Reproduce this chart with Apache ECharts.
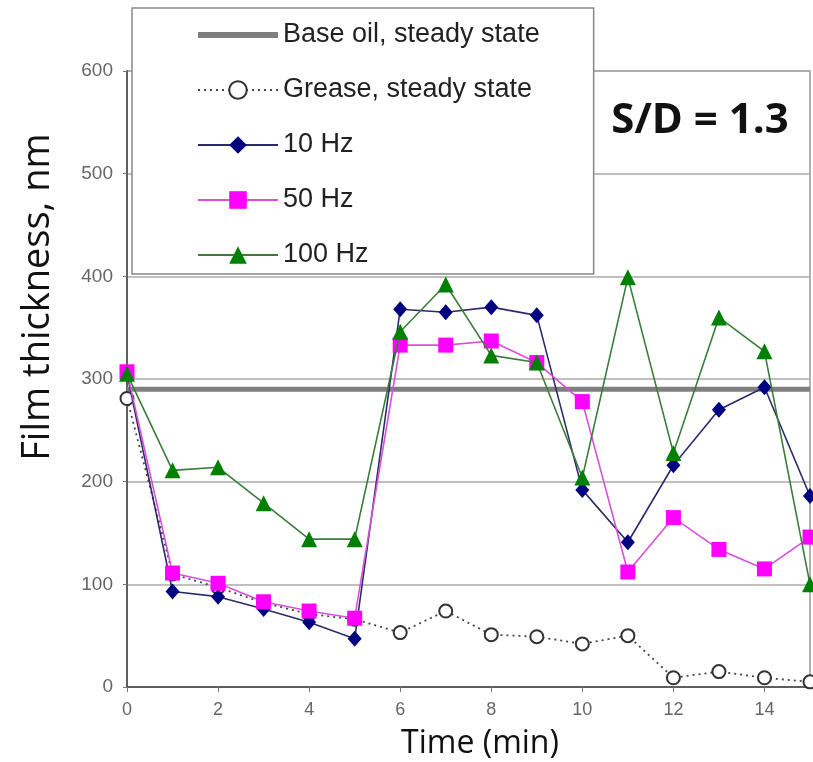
<!DOCTYPE html>
<html>
<head>
<meta charset="utf-8">
<script src="https://cdn.jsdelivr.net/npm/echarts@6/dist/echarts.min.js"></script>
<style>
html,body{margin:0;padding:0;background:#fff;}
#chart{width:813px;height:762px;}
</style>
</head>
<body>
<div id="chart"></div>
<script>
// ---- data ----
var times = [0,1,2,3,4,5,6,7,8,9,10,11,12,13,14,15];
var baseOilLevel = 290;
var greaseSteady = [281,110,97,82,71,66,53,74,51,49,42,50,9,15,9,5];
var hz10  = [305,93,88,76,63,47,368,365,370,362,192,141,216,270,292,186];
var hz50  = [307,111,101,83,74,67,333,333,337,316,278,112,165,134,115,146];
var hz100 = [305,211,214,179,144,144,346,392,323,316,204,399,228,360,327,100];
var seriesNames = ['Base oil, steady state','Grease, steady state','10 Hz','50 Hz','100 Hz'];
var xTickLabels = ['0','2','4','6','8','10','12','14'];
var yTickLabels = ['0','100','200','300','400','500','600'];

function pairs(vals){ return times.map(function(t,i){ return [t, vals[i]]; }); }

var chart = echarts.init(document.getElementById('chart'));
var option = {
  backgroundColor:'#fff',
  animation:false,
  grid:{left:127, top:71, width:683, height:616, show:true, borderColor:'#999', borderWidth:1.5, backgroundColor:'transparent'},
  xAxis:{
    type:'value', min:0, max:15, interval:2,
    axisLine:{lineStyle:{color:'#444', width:1.5}},
    axisTick:{show:true, length:5, lineStyle:{color:'#777'}},
    axisLabel:{color:'#666', fontFamily:'Liberation Sans, Arial', fontSize:18, margin:14, showMaxLabel:false,
      formatter:function(v){ var s=String(v); return xTickLabels.indexOf(s)>=0?s:''; }},
    splitLine:{show:false}
  },
  yAxis:{
    type:'value', min:0, max:600, interval:100,
    axisLine:{show:true, lineStyle:{color:'#444', width:1.5}},
    axisTick:{show:true, length:4, lineStyle:{color:'#777'}},
    axisLabel:{color:'#666', fontFamily:'Liberation Sans, Arial', fontSize:19, margin:14,
      formatter:function(v){ var s=String(v); return yTickLabels.indexOf(s)>=0?s:''; }},
    splitLine:{show:true, lineStyle:{color:'#aaa', width:1.5}}
  },
  legend:{
    orient:'vertical', left:132, top:8,
    backgroundColor:'#fff', borderColor:'#888', borderWidth:1.5,
    padding:[12,54,4,63],
    itemWidth:80, itemHeight:22, itemGap:25,
    textStyle:{color:'#222', fontFamily:'Liberation Sans, Arial', fontSize:27, lineHeight:30},
    data:[
      {name:seriesNames[0], itemStyle:{opacity:0}, lineStyle:{width:6, color:'#7f7f7f'}},
      {name:seriesNames[1]},
      {name:seriesNames[2]},
      {name:seriesNames[3]},
      {name:seriesNames[4]}
    ]
  },
  series:[
    {name:seriesNames[0], type:'line', data:[[0,baseOilLevel],[15,baseOilLevel]], symbol:'none',
      lineStyle:{color:'#7f7f7f', width:5}, itemStyle:{color:'#7f7f7f'}, z:2},
    {name:seriesNames[1], type:'line', data:pairs(greaseSteady), symbol:'emptyCircle', symbolSize:13,
      lineStyle:{color:'#444', width:1.8, type:[2,4]}, itemStyle:{color:'#333', borderWidth:1.8}, z:3},
    {name:seriesNames[2], type:'line', data:pairs(hz10), symbol:'diamond', symbolSize:[14,16],
      lineStyle:{color:'#2b2b6b', width:1.6}, itemStyle:{color:'#000080'}, z:4},
    {name:seriesNames[3], type:'line', data:pairs(hz50), symbol:'rect', symbolSize:15,
      lineStyle:{color:'#d84fd8', width:1.6}, itemStyle:{color:'#ff00ff'}, z:5},
    {name:seriesNames[4], type:'line', data:pairs(hz100), symbol:'triangle', symbolSize:16,
      lineStyle:{color:'#3a7d3a', width:1.6}, itemStyle:{color:'#008000'}, z:6}
  ],
  graphic:[
    {type:'text', x:38, y:297, rotation:Math.PI/2,
      style:{text:'Film thickness, nm', font:'38px "Open Sans"', fill:'#111', align:'center', verticalAlign:'middle'}},
    {type:'text', x:480, y:744,
      style:{text:'Time (min)', font:'32px "Open Sans"', fill:'#111', align:'center', verticalAlign:'middle'}},
    {type:'text', x:700, y:121, z:100,
      style:{text:'S/D = 1.3', font:'bold 42px "Open Sans"', fill:'#111', align:'center', verticalAlign:'middle'}}
  ]
};
chart.setOption(option);
</script>
</body>
</html>
